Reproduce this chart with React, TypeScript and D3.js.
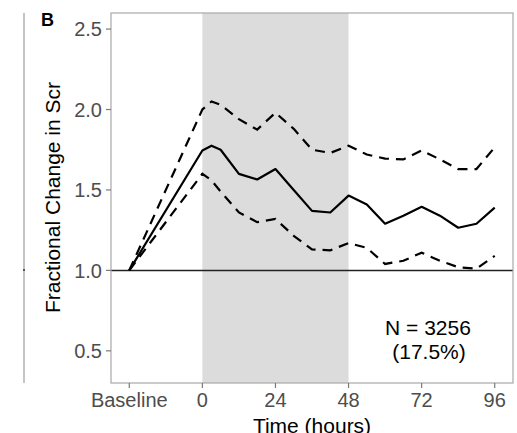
import React from "react";
import * as d3 from "d3";

const times = [-24, 0, 3, 6, 12, 18, 24, 30, 36, 42, 48, 54, 60, 66, 72, 78, 84, 90, 96];
const meanVals = [1.0, 1.745, 1.775, 1.75, 1.6, 1.565, 1.63, 1.5, 1.37, 1.36, 1.465, 1.41, 1.29, 1.34, 1.395, 1.34, 1.265, 1.29, 1.39];
const upperVals = [1.0, 2.0, 2.05, 2.03, 1.94, 1.875, 1.98, 1.88, 1.75, 1.73, 1.775, 1.72, 1.695, 1.69, 1.745, 1.69, 1.63, 1.63, 1.765];
const lowerVals = [1.0, 1.6, 1.56, 1.49, 1.36, 1.3, 1.32, 1.215, 1.13, 1.125, 1.17, 1.14, 1.04, 1.06, 1.11, 1.06, 1.02, 1.01, 1.09];
const xTicks = [-24, 0, 24, 48, 72, 96];
const xTickLabels = ["Baseline", "0", "24", "48", "72", "96"];
const yTicks = [0.5, 1.0, 1.5, 2.0, 2.5];
const shadeRange = [0, 48];
const annotation = ["N = 3256", "(17.5%)"];

export default function App() {
  const left = 111, right = 513, top = 13, bottom = 383;
  const x = d3.scaleLinear().domain([-30, 102]).range([left, right]);
  const y = d3.scaleLinear().domain([0.3, 2.6]).range([bottom, top]);
  const line = d3
    .line<number>()
    .x((_, i) => x(times[i]))
    .y((v) => y(v));
  const font = "'Liberation Sans', Arial, sans-serif";
  const tickColor = "#4d4d4d";
  return (
    <svg width={517} height={433} style={{ position: "absolute", left: 0, top: 0 }} fontFamily={font}>
      <rect width={517} height={433} fill="#fff" />
      {/* left figure border */}
      <line x1={24} x2={24} y1={13} y2={383} stroke="#b0b0b0" strokeWidth={1.5} />
      <circle cx={24} cy={270} r={1} fill="#333" />
      <text x={41} y={26} fontSize={18} fontWeight="bold" fill="#000">B</text>
      {/* shade */}
      <rect x={x(shadeRange[0])} y={top} width={x(shadeRange[1]) - x(shadeRange[0])} height={bottom - top} fill="#dcdcdc" />
      {/* reference line */}
      <line x1={left} x2={right} y1={y(1)} y2={y(1)} stroke="#222" strokeWidth={1.5} />
      <path d={line(upperVals) || ""} fill="none" stroke="#000" strokeWidth={2.2} strokeDasharray="10,7" />
      <path d={line(lowerVals) || ""} fill="none" stroke="#000" strokeWidth={2.2} strokeDasharray="10,7" />
      <path d={line(meanVals) || ""} fill="none" stroke="#000" strokeWidth={2.2} strokeLinejoin="round" />
      {/* panel border */}
      <rect x={left} y={top} width={right - left} height={bottom - top} fill="none" stroke="#a8a8a8" strokeWidth={1.2} />
      {/* y axis */}
      {yTicks.map((t) => (
        <g key={t}>
          <line x1={left - 5} x2={left} y1={y(t)} y2={y(t)} stroke="#7a7a7a" strokeWidth={1.2} />
          <text x={left - 9} y={y(t)} dy="0.36em" textAnchor="end" fontSize={20} fill={tickColor}>
            {t.toFixed(1)}
          </text>
        </g>
      ))}
      {/* x axis */}
      {xTicks.map((t, i) => (
        <g key={t}>
          <line x1={x(t)} x2={x(t)} y1={bottom} y2={bottom + 5} stroke="#7a7a7a" strokeWidth={1.2} />
          <text x={x(t)} y={407} textAnchor="middle" fontSize={20} fill={tickColor}>
            {xTickLabels[i]}
          </text>
        </g>
      ))}
      <text x={(left + right) / 2} y={433} textAnchor="middle" fontSize={21} fill="#000">
        Time (hours)
      </text>
      <text
        transform={`translate(${60},${197.5}) rotate(-90)`}
        textAnchor="middle"
        fontSize={21}
        fill="#000"
      >
        Fractional Change in Scr
      </text>
      <text x={428} y={335} textAnchor="middle" fontSize={21} fill="#000">{annotation[0]}</text>
      <text x={429} y={359} textAnchor="middle" fontSize={21} fill="#000">{annotation[1]}</text>
    </svg>
  );
}
